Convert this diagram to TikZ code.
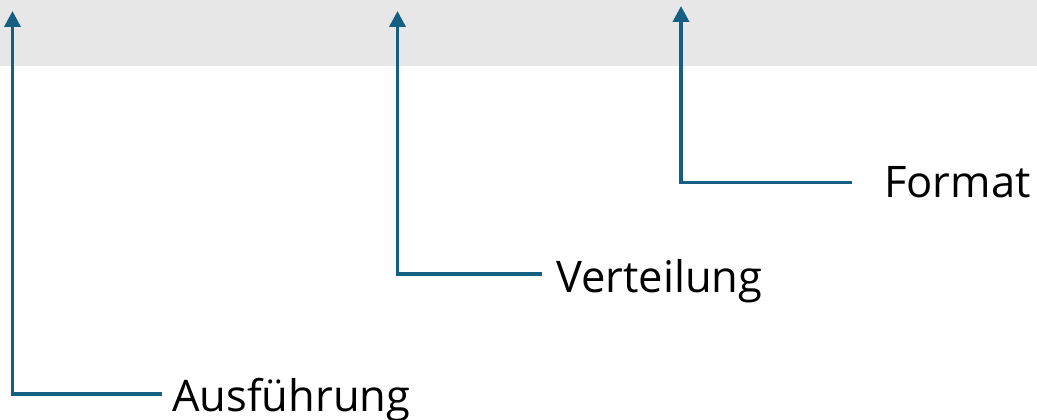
\documentclass[tikz,border=0pt]{standalone}
\usepackage{fontspec}
\setmainfont{Open Sans}
\usetikzlibrary{arrows.meta}
\definecolor{accent}{HTML}{156082}
\definecolor{band}{HTML}{E7E7E7}
\begin{document}
\begin{tikzpicture}[x=1pt,y=-1pt,
  lbl/.style={anchor=base west, inner sep=0pt, font=\fontsize{43.5}{50}\selectfont},
  conn/.style={draw=accent, line width=3.6pt, -{Triangle[width=16pt,length=16pt]}}]
\useasboundingbox (0,0) rectangle (1037,420);
% grey band along the top
\fill[band] (0,0) rectangle (1037,66);
% labels
\node[lbl] (aus) at (172,411) {Ausführung};
\node[lbl] (ver) at (556,292) {Verteilung};
\node[lbl] (fmt) at (884,197) {Format};
% connector ends
\coordinate (ausT) at (12.5,11);
\coordinate (ausE) at (162,394);
\coordinate (verT) at (397.5,11);
\coordinate (verE) at (542,274);
\coordinate (fmtT) at (681,6);
\coordinate (fmtE) at (852,182.5);
% elbow connectors
\draw[conn] (ausE) -| (ausT);
\draw[conn] (verE) -| (verT);
\draw[conn] (fmtE) -| (fmtT);
\end{tikzpicture}
\end{document}
